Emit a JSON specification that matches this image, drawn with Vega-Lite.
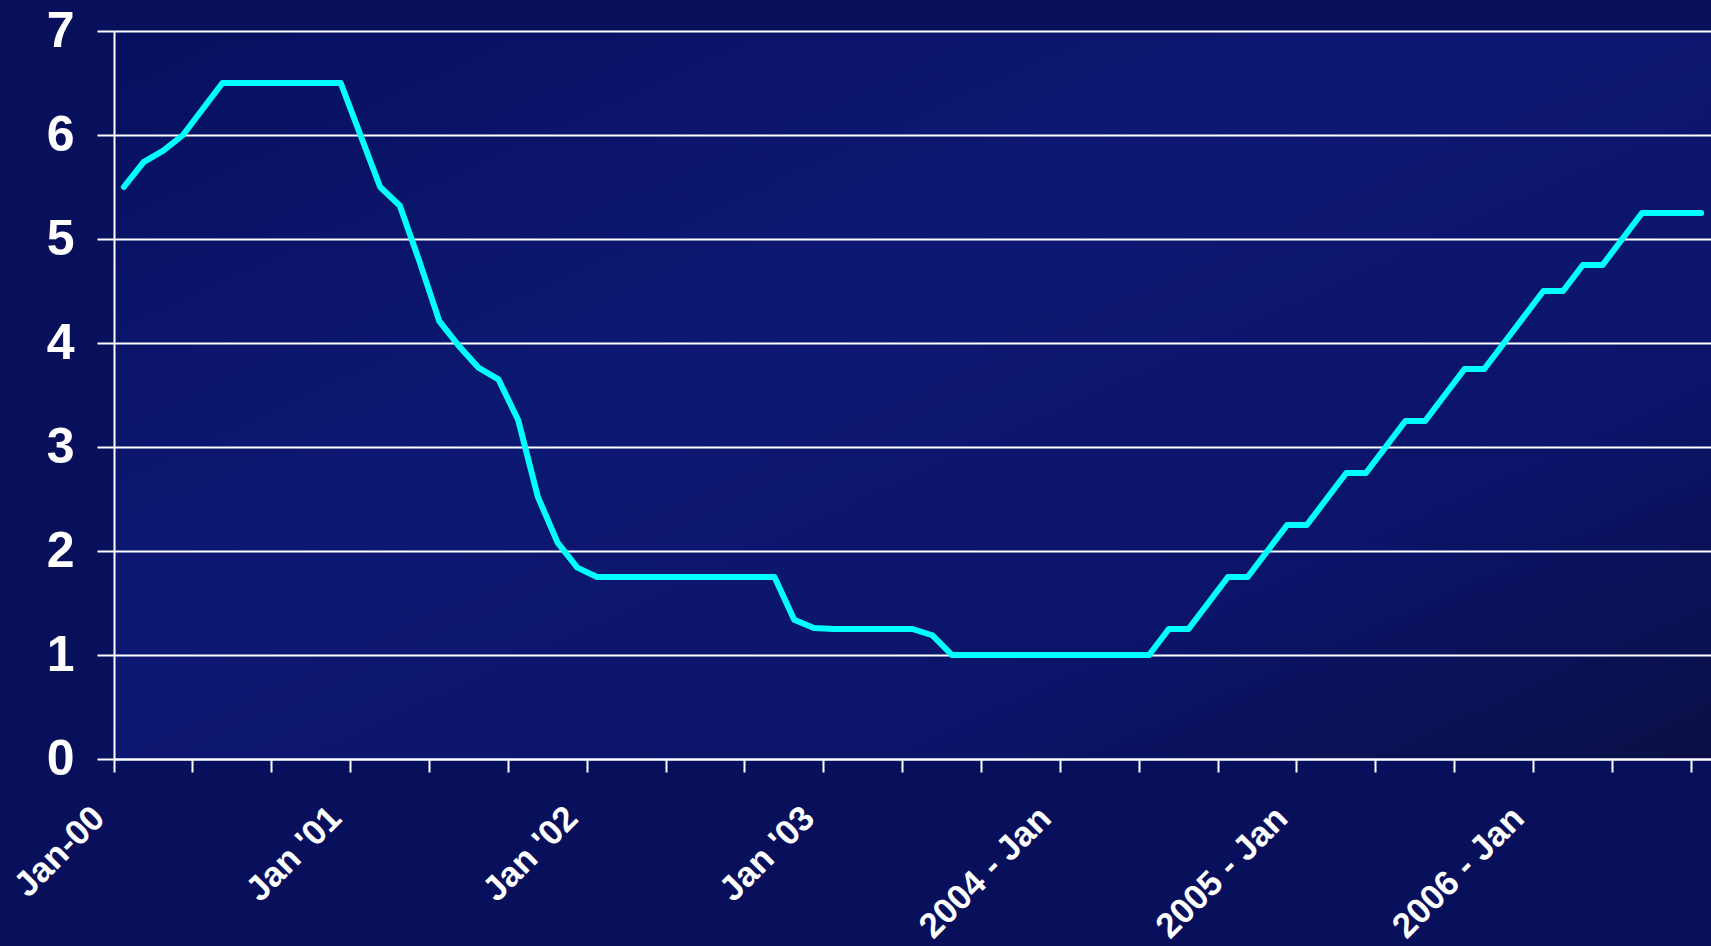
{
  "$schema": "https://vega.github.io/schema/vega-lite/v6.json",
  "width": 1597,
  "height": 728,
  "autosize": {"type": "none"},
  "padding": {"left": 114, "top": 31, "right": 0, "bottom": 187},
  "background": "#08105c",
  "config": {
    "view": {
      "stroke": null,
      "fill": {
        "gradient": "linear", "x1": 0, "y1": 0, "x2": 1, "y2": 1,
        "stops": [
          {"offset": 0, "color": "#07105e"},
          {"offset": 0.4, "color": "#0d1873"},
          {"offset": 0.75, "color": "#0b1468"},
          {"offset": 1, "color": "#0a0f45"}
        ]
      }
    }
  },
  "data": {
    "values": [
      {"m": "2000-01", "rate": 5.50}, {"m": "2000-02", "rate": 5.74}, {"m": "2000-03", "rate": 5.85}, {"m": "2000-04", "rate": 6.00},
      {"m": "2000-05", "rate": 6.25}, {"m": "2000-06", "rate": 6.50}, {"m": "2000-07", "rate": 6.50}, {"m": "2000-08", "rate": 6.50},
      {"m": "2000-09", "rate": 6.50}, {"m": "2000-10", "rate": 6.50}, {"m": "2000-11", "rate": 6.50}, {"m": "2000-12", "rate": 6.50},
      {"m": "2001-01", "rate": 6.00}, {"m": "2001-02", "rate": 5.50}, {"m": "2001-03", "rate": 5.32}, {"m": "2001-04", "rate": 4.78},
      {"m": "2001-05", "rate": 4.21}, {"m": "2001-06", "rate": 3.97}, {"m": "2001-07", "rate": 3.76}, {"m": "2001-08", "rate": 3.65},
      {"m": "2001-09", "rate": 3.26}, {"m": "2001-10", "rate": 2.52}, {"m": "2001-11", "rate": 2.08}, {"m": "2001-12", "rate": 1.84},
      {"m": "2002-01", "rate": 1.75}, {"m": "2002-02", "rate": 1.75}, {"m": "2002-03", "rate": 1.75}, {"m": "2002-04", "rate": 1.75},
      {"m": "2002-05", "rate": 1.75}, {"m": "2002-06", "rate": 1.75}, {"m": "2002-07", "rate": 1.75}, {"m": "2002-08", "rate": 1.75},
      {"m": "2002-09", "rate": 1.75}, {"m": "2002-10", "rate": 1.75}, {"m": "2002-11", "rate": 1.34}, {"m": "2002-12", "rate": 1.26},
      {"m": "2003-01", "rate": 1.25}, {"m": "2003-02", "rate": 1.25}, {"m": "2003-03", "rate": 1.25}, {"m": "2003-04", "rate": 1.25},
      {"m": "2003-05", "rate": 1.25}, {"m": "2003-06", "rate": 1.19}, {"m": "2003-07", "rate": 1.00}, {"m": "2003-08", "rate": 1.00},
      {"m": "2003-09", "rate": 1.00}, {"m": "2003-10", "rate": 1.00}, {"m": "2003-11", "rate": 1.00}, {"m": "2003-12", "rate": 1.00},
      {"m": "2004-01", "rate": 1.00}, {"m": "2004-02", "rate": 1.00}, {"m": "2004-03", "rate": 1.00}, {"m": "2004-04", "rate": 1.00},
      {"m": "2004-05", "rate": 1.00}, {"m": "2004-06", "rate": 1.25}, {"m": "2004-07", "rate": 1.25}, {"m": "2004-08", "rate": 1.50},
      {"m": "2004-09", "rate": 1.75}, {"m": "2004-10", "rate": 1.75}, {"m": "2004-11", "rate": 2.00}, {"m": "2004-12", "rate": 2.25},
      {"m": "2005-01", "rate": 2.25}, {"m": "2005-02", "rate": 2.50}, {"m": "2005-03", "rate": 2.75}, {"m": "2005-04", "rate": 2.75},
      {"m": "2005-05", "rate": 3.00}, {"m": "2005-06", "rate": 3.25}, {"m": "2005-07", "rate": 3.25}, {"m": "2005-08", "rate": 3.50},
      {"m": "2005-09", "rate": 3.75}, {"m": "2005-10", "rate": 3.75}, {"m": "2005-11", "rate": 4.00}, {"m": "2005-12", "rate": 4.25},
      {"m": "2006-01", "rate": 4.50}, {"m": "2006-02", "rate": 4.50}, {"m": "2006-03", "rate": 4.75}, {"m": "2006-04", "rate": 4.75},
      {"m": "2006-05", "rate": 5.00}, {"m": "2006-06", "rate": 5.25}, {"m": "2006-07", "rate": 5.25}, {"m": "2006-08", "rate": 5.25},
      {"m": "2006-09", "rate": 5.25}
    ]
  },
  "mark": {"type": "line", "color": "#00FFFF", "strokeWidth": 6, "strokeCap": "round", "strokeJoin": "round"},
  "encoding": {
    "x": {
      "field": "m",
      "type": "ordinal",
      "bandPosition": 0.5,
      "scale": {"type": "band", "paddingInner": 0, "paddingOuter": 0},
      "axis": {
        "title": null,
        "values": ["2000-01", "2000-05", "2000-09", "2001-01", "2001-05", "2001-09", "2002-01", "2002-05", "2002-09", "2003-01", "2003-05", "2003-09", "2004-01", "2004-05", "2004-09", "2005-01", "2005-05", "2005-09", "2006-01", "2006-05", "2006-09"],
        "bandPosition": 0,
        "grid": false,
        "domainColor": "white", "domainWidth": 2,
        "tickColor": "white", "tickWidth": 2, "tickSize": 13,
        "labelAngle": -45, "labelAlign": "right", "labelBaseline": "middle",
        "labelFont": "Liberation Sans", "labelFontWeight": "bold", "labelFontSize": 35, "labelColor": "white",
        "labelPadding": 40, "labelOffset": -25,
        "labelOverlap": false, "labelBound": false, "labelFlush": false, "labelLimit": 0,
        "labelExpr": "slice(datum.value, 5) != '01' ? '' : datum.value == '2000-01' ? 'Jan-00' : toNumber(slice(datum.value, 0, 4)) < 2004 ? \"Jan '\" + slice(datum.value, 2, 4) : slice(datum.value, 0, 4) + ' - Jan'"
      }
    },
    "y": {
      "field": "rate",
      "type": "quantitative",
      "scale": {"domain": [0, 7], "nice": false, "zero": true},
      "axis": {
        "title": null,
        "values": [0, 1, 2, 3, 4, 5, 6, 7],
        "grid": true, "gridColor": "white", "gridWidth": 2, "gridOpacity": 1,
        "domainColor": "white", "domainWidth": 2,
        "tickColor": "white", "tickWidth": 2, "tickSize": 17,
        "labelFont": "Liberation Sans", "labelFontWeight": "bold", "labelFontSize": 50, "labelColor": "white",
        "labelPadding": 23, "labelBound": false, "labelFlush": false, "labelOverlap": false
      }
    }
  }
}
